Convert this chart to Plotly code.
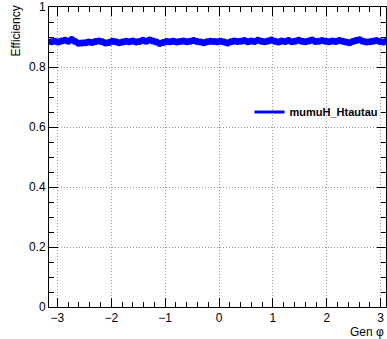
import numpy as np
import plotly.graph_objects as go

# 100 bins over [-pi, pi]
n_bins = 100
phi_lo, phi_hi = -np.pi, np.pi
bin_centers = list(np.linspace(phi_lo, phi_hi, n_bins + 1)[:-1] + (phi_hi - phi_lo) / n_bins / 2)

efficiency = [
    0.884, 0.886, 0.883, 0.887, 0.889, 0.886, 0.892, 0.885, 0.879, 0.880,
    0.881, 0.883, 0.882, 0.885, 0.887, 0.884, 0.880, 0.882, 0.886, 0.884,
    0.881, 0.883, 0.886, 0.884, 0.887, 0.883, 0.885, 0.889, 0.886, 0.890,
    0.887, 0.883, 0.878, 0.882, 0.885, 0.884, 0.886, 0.883, 0.885, 0.887,
    0.884, 0.886, 0.888, 0.885, 0.883, 0.881, 0.884, 0.886, 0.885, 0.884,
    0.886, 0.883, 0.880, 0.884, 0.887, 0.885, 0.886, 0.888, 0.884, 0.887,
    0.885, 0.889, 0.886, 0.884, 0.887, 0.890, 0.886, 0.883, 0.887, 0.885,
    0.888, 0.884, 0.886, 0.889, 0.886, 0.884, 0.887, 0.890, 0.885, 0.886,
    0.888, 0.886, 0.884, 0.887, 0.885, 0.888, 0.886, 0.883, 0.881, 0.885,
    0.888, 0.891, 0.886, 0.883, 0.884, 0.886, 0.888, 0.885, 0.883, 0.886,
]

series_name = "mumuH_Htautau"
x_title = "Gen φ"
y_title = "Efficiency"
x_ticks = [-3, -2, -1, 0, 1, 2, 3]
y_ticks = [0, 0.2, 0.4, 0.6, 0.8, 1]
y_ticklabels = ["0", "0.2", "0.4", "0.6", "0.8", "1"]

FONT = "Liberation Sans, Arial, Helvetica, sans-serif"

fig = go.Figure()
fig.add_trace(go.Scatter(
    x=bin_centers, y=efficiency, mode="markers",
    marker=dict(color="#0000ff", size=7, symbol="circle", line=dict(width=0)),
    showlegend=False,
))
fig.add_trace(go.Scatter(
    x=[None], y=[None], mode="lines",
    line=dict(color="#0000ff", width=3),
    name=series_name, showlegend=True,
))

axis_common = dict(
    showline=True, linecolor="black", linewidth=1, mirror="allticks",
    ticks="inside", tickcolor="black", ticklen=9, tickwidth=1,
    showgrid=True, gridcolor="#9a9a9a", griddash="1px,2px", gridwidth=1,
    zeroline=False,
    tickfont=dict(family=FONT, size=12, color="black"),
)

fig.update_xaxes(
    range=[-3.156, 3.099], tickvals=x_ticks,
    minor=dict(ticks="inside", dtick=0.2, tick0=0, ticklen=5, tickcolor="black", showgrid=False),
    **axis_common,
)
fig.update_yaxes(
    range=[0, 1], tickvals=y_ticks, ticktext=y_ticklabels,
    minor=dict(ticks="inside", dtick=0.05, tick0=0, ticklen=5, tickcolor="black", showgrid=False),
    **axis_common,
)

fig.add_annotation(
    text=y_title, textangle=-90, xref="paper", yref="paper",
    x=0, y=1, xanchor="center", yanchor="top", xshift=-34, yshift=3,
    showarrow=False, font=dict(family=FONT, size=12, color="black"),
)
fig.add_annotation(
    text=x_title, xref="paper", yref="paper",
    x=1, y=0, xanchor="right", yanchor="middle", xshift=0, yshift=-25,
    showarrow=False, font=dict(family=FONT, size=12, color="black"),
)

fig.update_layout(
    width=387, height=339,
    margin=dict(l=49, r=1, t=7, b=32),
    paper_bgcolor="white", plot_bgcolor="white",
    legend=dict(
        x=0.595, y=0.65, xanchor="left", yanchor="middle",
        bgcolor="rgba(0,0,0,0)", borderwidth=0,
        font=dict(family=FONT, size=11, color="black", weight="bold"),
    ),
)

fig.write_html("out.html")
